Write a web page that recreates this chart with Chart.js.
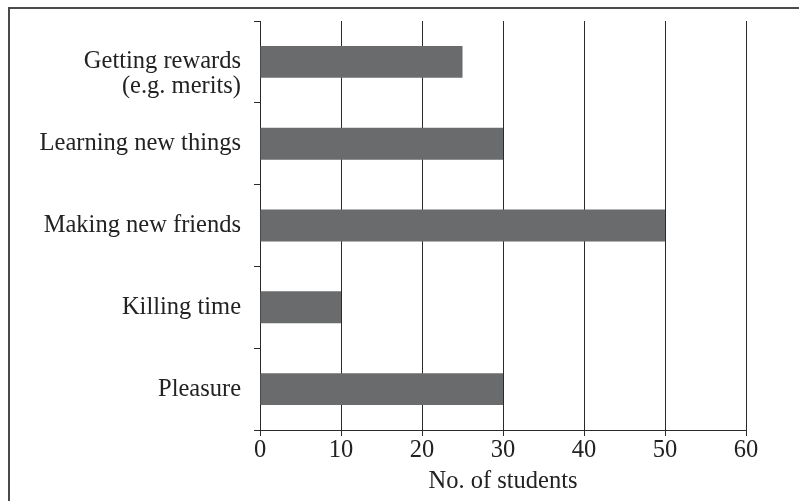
<!DOCTYPE html>
<html>
<head>
<meta charset="utf-8">
<script src="https://cdn.jsdelivr.net/npm/chart.js@4"></script>
<style>
  html, body { margin: 0; padding: 0; background: #fff; overflow: hidden; }
  #frame {
    position: absolute; left: 8px; top: 7px; width: 820px; height: 520px;
    border: 2px solid #4a4a4a;
  }
  #wrap { position: absolute; left: 0; top: 0; width: 799px; height: 501px; }
</style>
</head>
<body>
<div id="frame"></div>
<div id="wrap"><canvas id="chart" width="799" height="501"></canvas></div>
<script>
// Data
// leading empty line pushes the two-line label down so its first line sits on the bar
const categories = [
  ['', 'Getting rewards', '(e.g. merits)'],
  'Learning new things',
  'Making new friends',
  'Killing time',
  'Pleasure'
];
const students = [25, 30, 50, 10, 30];
const xTicks = [0, 10, 20, 30, 40, 50, 60];

const serif = '"Liberation Serif", "Times New Roman", serif';
const ink = '#222';

new Chart(document.getElementById('chart'), {
  type: 'bar',
  data: {
    labels: categories,
    datasets: [{
      data: students,
      backgroundColor: '#6a6b6d',
      borderWidth: 0,
      categoryPercentage: 1,
      barPercentage: 0.39
    }]
  },
  options: {
    indexAxis: 'y',
    responsive: false,
    animation: false,
    layout: { padding: { top: 21, right: 53, left: 0, bottom: 0 } },
    plugins: {
      legend: { display: false },
      tooltip: { enabled: false }
    },
    scales: {
      x: {
        z: 1,
        min: xTicks[0],
        max: xTicks[xTicks.length - 1],
        afterBuildTicks: scale => { scale.ticks = xTicks.map(v => ({ value: v })); },
        afterFit: scale => { scale.height = 71; },
        grid: { color: '#2a2a2a', lineWidth: 1, tickLength: 6, drawOnChartArea: true },
        border: { color: '#2a2a2a', width: 1 },
        ticks: { color: ink, padding: 0, maxRotation: 0, font: { family: serif, size: 24.5 } },
        title: {
          display: true,
          text: 'No. of students',
          color: ink,
          font: { family: serif, size: 24.5 },
          padding: { top: 0, bottom: 5 }
        }
      },
      y: {
        z: 1,
        offset: true,
        afterFit: scale => {
          scale.width = 260;
          scale.paddingTop = 0;
          scale.paddingBottom = 0;
        },
        grid: { offset: true, drawOnChartArea: false, color: '#2a2a2a', tickLength: 6 },
        border: { color: '#2a2a2a', width: 1 },
        ticks: { color: ink, padding: 13, font: { family: serif, size: 24.5, lineHeight: 1.02 } }
      }
    }
  }
});
</script>
</body>
</html>
